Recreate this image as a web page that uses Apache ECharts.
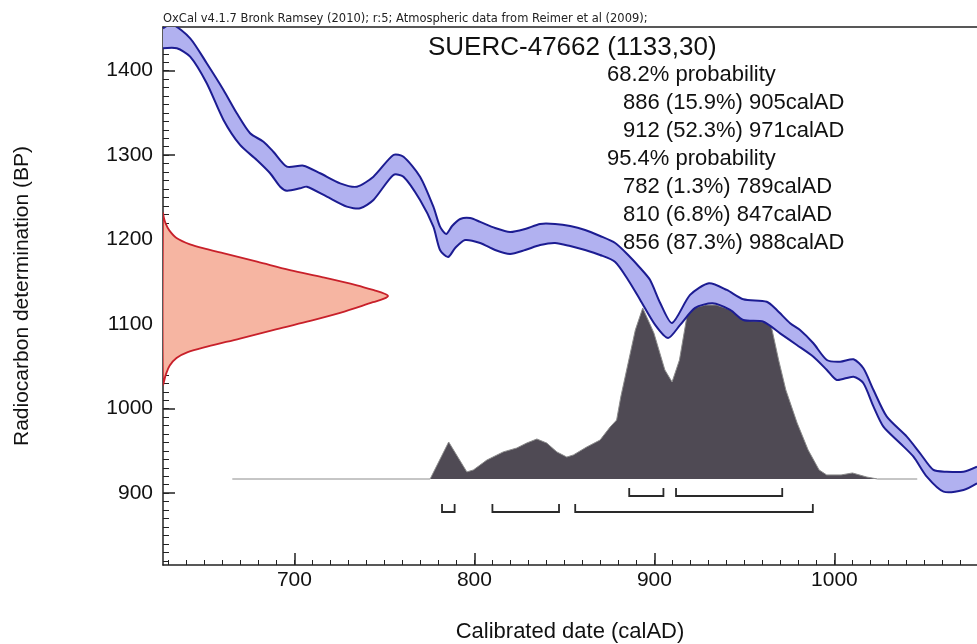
<!DOCTYPE html>
<html>
<head>
<meta charset="utf-8">
<script src="https://cdn.jsdelivr.net/npm/echarts@6/dist/echarts.min.js"></script>
<style>
html,body{margin:0;padding:0;background:#fff;}
#chart{width:977px;height:644px;}
</style>
</head>
<body>
<div id="chart"></div>
<script>
// ---------- DATA ----------
const headerText = 'OxCal v4.1.7 Bronk Ramsey (2010); r:5; Atmospheric data from Reimer et al (2009);';
const sampleTitle = 'SUERC-47662 (1133,30)';
const rangeLines = [
  {text: '68.2% probability', indent: false},
  {text: '886 (15.9%) 905calAD', indent: true},
  {text: '912 (52.3%) 971calAD', indent: true},
  {text: '95.4% probability', indent: false},
  {text: '782 (1.3%) 789calAD', indent: true},
  {text: '810 (6.8%) 847calAD', indent: true},
  {text: '856 (87.3%) 988calAD', indent: true}
];
const xAxisTitle = 'Calibrated date (calAD)';
const yAxisTitle = 'Radiocarbon determination (BP)';

const majorYearTicks = [700, 800, 900, 1000];
const minorYearTicks = [630,640,650,660,670,680,690,700,710,720,730,740,750,760,770,780,790,800,810,820,830,840,850,860,870,880,890,900,910,920,930,940,950,960,970,980,990,1000,1010,1020,1030,1040,1050,1060,1070];
const majorBPTicks = [900, 1000, 1100, 1200, 1300, 1400];
const minorBPTicks = [820,830,840,850,860,870,880,890,900,910,920,930,940,950,960,970,980,990,1000,1010,1020,1030,1040,1050,1060,1070,1080,1090,1100,1110,1120,1130,1140,1150,1160,1170,1180,1190,1200,1210,1220,1230,1240,1250,1260,1270,1280,1290,1300,1310,1320,1330,1340,1350,1360,1370,1380,1390,1400,1410,1420,1430,1440,1450];

// calibration curve: upper (BP + sigma) and lower (BP - sigma) edges, [calAD, BP]
const curveUpper = [
  [627,1450],[632,1455],[642.1,1438.3],[651.3,1408.8],[660.6,1377.2],[668.0,1349.6],[675.4,1325.9],
  [682.8,1316.0],[688.3,1304.1],[695.8,1286.4],[705.0,1287.6],[714.3,1278.6],[725.4,1266.7],
  [734.7,1262.7],[743.9,1274.6],[755.0,1300.2],[760.6,1298.2],[769.8,1274.6],[777.2,1239.1],
  [780.9,1215.4],[784.3,1206.7],[787.6,1216.2],[792.1,1224.5],[797.6,1225.7],[803.2,1221.0],
  [811.5,1213.8],[819.8,1209.1],[828.2,1212.7],[836.5,1218.6],[844.8,1218.6],[853.2,1216.2],
  [861.5,1211.5],[869.8,1204.4],[878.2,1196.1],[885.4,1181.9],[892.1,1166.5],[897.6,1152.3],
  [903.2,1125.1],[909.8,1101.4],[919.8,1134.6],[930.3,1148.4],[940.2,1140.5],[949.4,1129.5],
  [962.4,1126.6],[968.0,1116.8],[975.4,1101.1],[980.9,1093.1],[988.3,1077.4],[995.8,1057.6],
  [1003.2,1055.6],[1010.6,1058.5],[1016.1,1047.8],[1021.7,1022.1],[1029.1,990.5],[1040.2,966.9],
  [1047.6,947.2],[1055.0,927.5],[1062.4,925.4],[1071.7,925.4],[1079.2,931.4]
];
const curveLower = [
  [627,1426.5],[634.7,1426.5],[642.1,1416.6],[651.3,1385.1],[660.6,1341.7],[669.8,1312.1],
  [679.1,1294.3],[686.5,1278.6],[692.1,1262.7],[695.8,1258.0],[703.2,1260.8],[706.9,1262.7],
  [718.0,1250.9],[729.1,1239.1],[736.5,1237.2],[743.9,1247.0],[755.0,1276.6],[760.6,1274.6],
  [769.8,1247.0],[777.2,1215.4],[780.9,1187.8],[785.4,1179.5],[789.3,1190.2],[794.8,1199.6],
  [803.2,1196.1],[811.5,1187.8],[819.8,1183.1],[828.2,1187.8],[836.5,1193.7],[844.8,1196.1],
  [853.2,1192.5],[861.5,1187.8],[869.8,1181.9],[878.2,1173.6],[885.4,1152.3],[892.1,1128.7],
  [900.4,1099.2],[907.6,1083.7],[914.3,1099.2],[922.6,1119.3],[932.3,1124.7],[942.1,1116.8],
  [949.4,1104.9],[960.6,1102.9],[969.8,1089.2],[979.1,1075.4],[988.3,1061.5],[995.8,1045.8],
  [1001.3,1034.0],[1010.6,1037.9],[1016.1,1030.1],[1021.7,1002.4],[1027.2,978.7],[1036.5,959.1],
  [1043.9,943.2],[1051.3,919.5],[1060.6,901.8],[1071.7,903.8],[1079.2,911.7]
];

// radiocarbon measurement distribution: [relative density, BP]
const measurement = [
  [0,1231],[0.004,1226],[0.012,1219],[0.028,1211],[0.06,1202],[0.12,1194.5],[0.2,1188.5],
  [0.267,1184],[0.418,1174],[0.564,1164],[0.711,1155.5],[0.862,1146],[0.94,1140],[0.985,1136],
  [1.0,1133.3],[0.985,1130.5],[0.933,1126],[0.787,1113.5],[0.64,1103],[0.489,1093],[0.342,1083],
  [0.196,1073.4],[0.11,1067],[0.06,1060],[0.03,1051],[0.012,1040],[0,1029]
];

// calibrated probability distribution: [calAD, relative probability]
const calibrated = [
  [665.5,0],[775.4,0],[785.7,0.209],[795.8,0.040],[799.4,0.051],[806.9,0.107],[816,0.153],
  [823.5,0.175],[829,0.203],[834.7,0.226],[840.2,0.203],[845.8,0.153],[851.3,0.124],[855,0.136],
  [862.4,0.181],[869.8,0.220],[875.4,0.294],[879,0.333],[881.3,0.463],[885.4,0.655],[889.4,0.842],
  [893.5,0.966],[894.5,0.972],[899.7,0.825],[905.8,0.616],[909.8,0.548],[913.9,0.672],[918,0.915],
  [922,0.966],[928.2,0.983],[934.4,0.983],[942.6,0.955],[950.7,0.898],[961,0.887],[965,0.859],
  [969,0.672],[973,0.503],[979.3,0.316],[985.4,0.164],[991.5,0.051],[995.7,0.023],[1003.7,0.023],
  [1010,0.034],[1018,0.011],[1024,0],[1046,0]
];

// highest probability ranges: [from, to, row]  row 0 = 68.2%, row 1 = 95.4%
const ranges = [
  [886,905,0],[912,971,0],
  [782,789,1],[810,847,1],[856,988,1]
];

// ---------- CHART ----------
const FONT = '"Liberation Sans", Arial, Helvetica, sans-serif';
const chart = echarts.init(document.getElementById('chart'), null, {renderer: 'canvas'});

const X_MIN = 627, X_MAX = 1079.2;
const Y_MIN = 815, Y_MAX = 1451.7;

function bandRenderer(params, api) {
  if (params.dataIndex !== 0) return null;
  const up = curveUpper.map(p => api.coord(p));
  const lo = curveLower.map(p => api.coord(p));
  const sm = 0.25;
  return {
    type: 'group',
    children: [
      {type: 'polygon', shape: {points: up.concat(lo.slice().reverse()), smooth: sm},
       style: {fill: '#b1b1f0', stroke: 'none'}},
      {type: 'polyline', shape: {points: up, smooth: sm},
       style: {stroke: '#1c1c92', lineWidth: 2, fill: 'none'}},
      {type: 'polyline', shape: {points: lo, smooth: sm},
       style: {stroke: '#1c1c92', lineWidth: 2, fill: 'none'}}
    ]
  };
}

function measurementRenderer(params, api) {
  if (params.dataIndex !== 0) return null;
  const pts = measurement.map(p => api.coord(p));
  return {type: 'polygon', shape: {points: pts, smooth: 0.35},
          style: {fill: '#f6b5a2', stroke: '#c8202a', lineWidth: 1.8}};
}

const textGraphics = [];
textGraphics.push({
  type: 'text', x: 163, y: 19.5,
  style: {text: headerText, font: '11.5px "DejaVu Sans", ' + FONT, fill: '#222', verticalAlign: 'middle'}
});
textGraphics.push({
  type: 'text', x: 428, y: 47.5,
  style: {text: sampleTitle, font: '26px ' + FONT, fill: '#111', verticalAlign: 'middle'}
});
rangeLines.forEach((l, i) => {
  textGraphics.push({
    type: 'text', x: l.indent ? 623 : 607, y: 75 + i * 28,
    style: {text: l.text, font: '22px ' + FONT, fill: '#111', verticalAlign: 'middle'}
  });
});

const plainFmt = v => String(v);

const option = {
  animation: false,
  backgroundColor: '#ffffff',
  grid: {left: 163, top: 27, right: 0, bottom: 79, containLabel: false, outerBoundsMode: 'none'},
  xAxis: [
    {
      type: 'value', min: X_MIN, max: X_MAX, position: 'bottom',
      axisLine: {show: true, onZero: false, lineStyle: {color: '#222', width: 1.5}},
      axisTick: {show: true, inside: true, length: 12, customValues: majorYearTicks, lineStyle: {color: '#222', width: 1.5}},
      axisLabel: {show: true, customValues: majorYearTicks, formatter: plainFmt, fontSize: 21, fontFamily: FONT, color: '#111', margin: 5},
      splitLine: {show: false},
      name: xAxisTitle, nameLocation: 'middle', nameGap: 56,
      nameTextStyle: {fontSize: 22, fontFamily: FONT, color: '#111'}
    },
    {type: 'value', min: 0, max: 814 / 225, show: false, axisLine: {onZero: false}},
    {
      type: 'value', min: X_MIN, max: X_MAX, position: 'bottom',
      axisLine: {show: false, onZero: false},
      axisTick: {show: true, inside: true, length: 5, customValues: minorYearTicks, lineStyle: {color: '#222', width: 1}},
      axisLabel: {show: false}, splitLine: {show: false}
    },
    {
      type: 'value', min: X_MIN, max: X_MAX, position: 'top',
      axisLine: {show: true, onZero: false, lineStyle: {color: '#222', width: 1.5}},
      axisTick: {show: false}, axisLabel: {show: false}, splitLine: {show: false}
    }
  ],
  yAxis: [
    {
      type: 'value', min: Y_MIN, max: Y_MAX, position: 'left',
      axisLine: {show: true, onZero: false, lineStyle: {color: '#222', width: 1.5}},
      axisTick: {show: true, inside: true, length: 12, customValues: majorBPTicks, lineStyle: {color: '#222', width: 1.5}},
      axisLabel: {show: true, customValues: majorBPTicks, formatter: plainFmt, fontSize: 21, fontFamily: FONT, color: '#111', margin: 10},
      splitLine: {show: false},
      name: yAxisTitle, nameLocation: 'middle', nameGap: 130,
      nameTextStyle: {fontSize: 21, fontFamily: FONT, color: '#111'}
    },
    {type: 'value', min: -86 / 177, max: 452 / 177, show: false, axisLine: {onZero: false}},
    {
      type: 'value', min: Y_MIN, max: Y_MAX, position: 'left',
      axisLine: {show: false, onZero: false},
      axisTick: {show: true, inside: true, length: 6, customValues: minorBPTicks, lineStyle: {color: '#222', width: 1}},
      axisLabel: {show: false}, splitLine: {show: false}
    }
  ],
  graphic: textGraphics,
  series: [
    {
      name: 'calibrated', type: 'line', xAxisIndex: 0, yAxisIndex: 1,
      data: calibrated, showSymbol: false, symbol: 'none', smooth: false,
      lineStyle: {color: '#8c8c8c', width: 1},
      areaStyle: {color: '#4f4a54', opacity: 1},
      z: 2
    },
    {
      name: 'band', type: 'custom', xAxisIndex: 0, yAxisIndex: 0, clip: true,
      data: curveUpper,
      renderItem: bandRenderer,
      z: 3
    },
    {
      name: 'measurement', type: 'custom', xAxisIndex: 1, yAxisIndex: 0, clip: true,
      data: measurement,
      renderItem: measurementRenderer,
      z: 3
    },
    {
      name: 'ranges', type: 'custom', xAxisIndex: 0, yAxisIndex: 1,
      data: ranges,
      renderItem: function (params, api) {
        const a = api.coord([api.value(0), 0]);
        const b = api.coord([api.value(1), 0]);
        const y = a[1] + (api.value(2) === 0 ? 17 : 33);
        return {
          type: 'polyline',
          shape: {points: [[a[0], y - 8], [a[0], y], [b[0], y], [b[0], y - 8]]},
          style: {stroke: '#2a2a2a', lineWidth: 1.8, fill: 'none'}
        };
      },
      z: 5
    }
  ]
};
chart.setOption(option);
</script>
</body>
</html>
